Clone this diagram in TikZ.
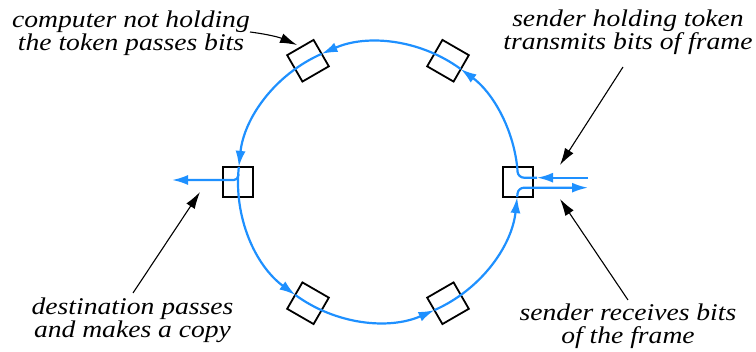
\documentclass[tikz,border=0pt]{standalone}
\usepackage{fontspec}
\setmainfont{Liberation Serif}[FakeStretch=1.15]
\usetikzlibrary{arrows.meta}
\definecolor{ringblue}{RGB}{30,144,255}
\tikzset{
  ring/.style={draw=ringblue, line width=2.2pt},
  bluetip/.style={-{Latex[length=16pt,width=10pt]}},
  stn/.style={draw=black, line width=1.8pt, minimum size=30.5pt, inner sep=0pt},
  lbl/.style={font=\fontsize{24}{23.5}\selectfont\itshape, align=center, anchor=base, inner sep=0pt},
  pointer/.style={draw=black, line width=1.1pt, -{Latex[length=17pt,width=10pt]}}
}
\begin{document}
\begin{tikzpicture}[x=1pt,y=1pt]
\useasboundingbox (0,0) rectangle (756,352);
\begin{scope}[shift={(378,170)}]
  \node[stn, rotate=0]   (s0)   at (0:140)   {};
  \node[stn, rotate=60]  (s60)  at (60:140)  {};
  \node[stn, rotate=120] (s120) at (120:140) {};
  \node[stn, rotate=180] (s180) at (180:140) {};
  \node[stn, rotate=240] (s240) at (240:140) {};
  \node[stn, rotate=300] (s300) at (300:140) {};
  \draw[ring,bluetip] (6.2:140) arc[start angle=6.2, end angle=53.8, radius=140pt];
  \draw[ring,bluetip] (53.8:140) arc[start angle=53.8, end angle=113.8, radius=140pt];
  \draw[ring,bluetip] (113.8:140) arc[start angle=113.8, end angle=173.8, radius=140pt];
  \draw[ring,bluetip] (173.8:140) arc[start angle=173.8, end angle=233.8, radius=140pt];
  \draw[ring,bluetip] (233.8:140) arc[start angle=233.8, end angle=293.8, radius=140pt];
  \draw[ring,bluetip] (293.8:140) arc[start angle=293.8, end angle=353.8, radius=140pt];
\end{scope}
% right station: transmit and receive
\coordinate (inR) at (588,174.3);
\coordinate (outR) at (588,164.3);
\coordinate (inTip) at (537,174.3);
\draw[ring,bluetip] (inR) -- (inTip);
\draw[ring,rounded corners=6pt] (inTip) -- (518,174.3) -- (517.2,185.1);
\draw[ring,rounded corners=6pt,bluetip] (517.2,154.9) -- (518,164.3) -- (outR);
% left station: copy
\coordinate (copyEnd) at (172,172);
\draw[ring,rounded corners=4pt,bluetip] (238.2,178) -- (238,172) -- (copyEnd);
% labels (base = baseline of last line)
\node[lbl] (tl) at (131,301) {computer not holding\\the token passes bits};
\node[lbl] (tr) at (628,302) {sender holding token\\transmits bits of frame};
\node[lbl] (bl) at (132.5,14) {destination passes\\and makes a copy};
\node[lbl] (br) at (628,8) {sender receives bits\\of the frame};
% pointers
\coordinate (tlA) at (250,320);
\coordinate (tlB) at (297,307);
\coordinate (trA) at (623,285);
\coordinate (trB) at (560,187);
\coordinate (brA) at (628,52);
\coordinate (brB) at (560,153);
\coordinate (blA) at (133,59);
\coordinate (blB) at (200,160);
\draw[pointer] (tlA) to[bend left=8] (tlB);
\draw[pointer] (trA) -- (trB);
\draw[pointer] (brA) -- (brB);
\draw[pointer] (blA) -- (blB);
\end{tikzpicture}
\end{document}
